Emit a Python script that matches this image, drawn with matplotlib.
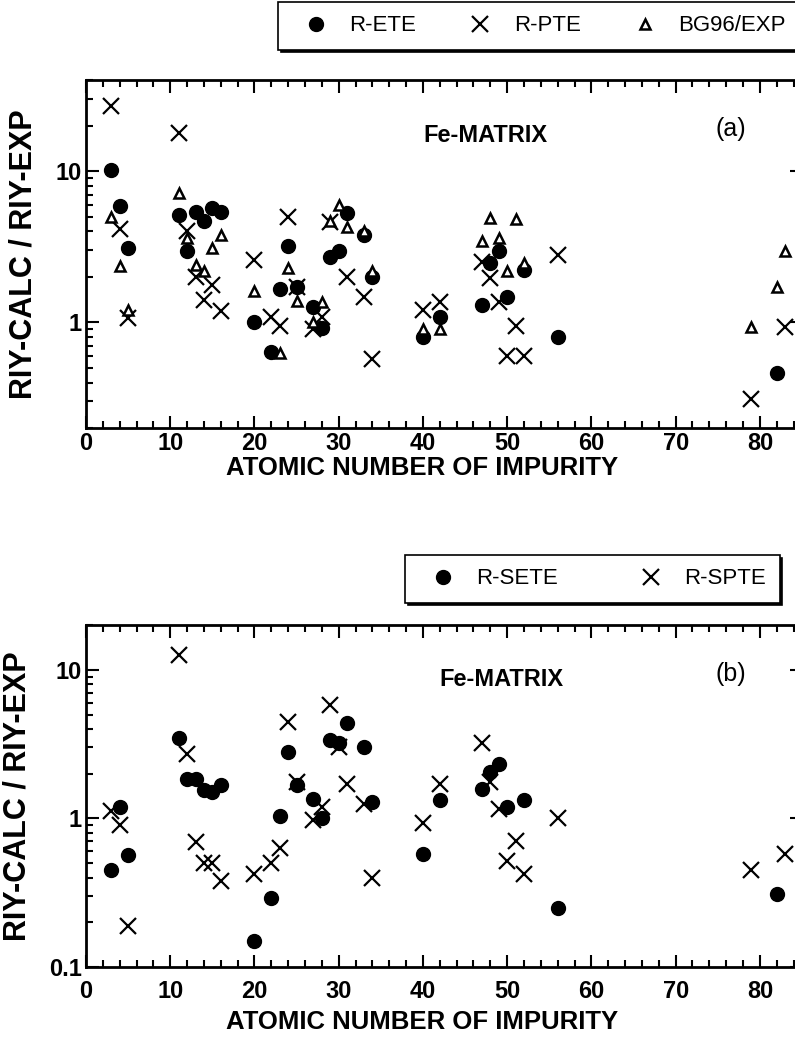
import matplotlib
matplotlib.use("Agg")
import matplotlib.pyplot as plt
from matplotlib.ticker import MultipleLocator, LogLocator, FuncFormatter, NullFormatter

plt.rcParams['font.family'] = ['Liberation Sans', 'DejaVu Sans']

# ---- panel (a) data ----
z_ete = [3, 4, 5, 11, 12, 13, 14, 15, 16, 20, 22, 23, 24, 25, 27, 28, 29, 30, 31,
         33, 34, 40, 42, 47, 48, 49, 50, 52, 56, 82]
r_ete = [10.2, 5.9, 3.1, 5.1, 2.94, 5.4, 4.7, 5.7, 5.4, 1.0, 0.64, 1.66, 3.18, 1.7,
         1.26, 0.92, 2.7, 2.95, 5.3, 3.8, 2.0, 0.8, 1.08, 1.3, 2.46, 2.94, 1.47,
         2.22, 0.8, 0.46]

z_pte = [3, 4, 5, 11, 12, 13, 14, 15, 16, 20, 22, 23, 24, 25, 27, 28, 29, 31, 33,
         34, 40, 42, 47, 48, 49, 50, 51, 52, 56, 79, 83]
r_pte = [27, 4.15, 1.06, 17.8, 4.0, 2.0, 1.4, 1.77, 1.19, 2.6, 1.08, 0.95, 4.96,
         1.7, 0.9, 1.08, 4.6, 2.0, 1.48, 0.57, 1.2, 1.37, 2.52, 1.95, 1.37, 0.6,
         0.95, 0.6, 2.8, 0.31, 0.93]

z_bg96 = [3, 4, 5, 11, 12, 13, 14, 15, 16, 20, 23, 24, 25, 27, 28, 29, 30, 31, 33,
          34, 40, 42, 47, 48, 49, 50, 51, 52, 79, 82, 83]
r_bg96 = [5.0, 2.34, 1.2, 7.2, 3.6, 2.4, 2.17, 3.1, 3.76, 1.6, 0.63, 2.28, 1.39,
          1.0, 1.37, 4.7, 6.0, 4.3, 4.0, 2.2, 0.91, 0.91, 3.43, 4.9, 3.6, 2.2, 4.8,
          2.46, 0.93, 1.72, 2.94]

# ---- panel (b) data ----
z_sete = [3, 4, 5, 11, 12, 13, 14, 15, 16, 20, 22, 23, 24, 25, 27, 28, 29, 30, 31,
          33, 34, 40, 42, 47, 48, 49, 50, 52, 56, 82]
r_sete = [0.45, 1.2, 0.57, 3.5, 1.85, 1.85, 1.55, 1.5, 1.67, 0.15, 0.29, 1.03, 2.8,
          1.67, 1.36, 1.0, 3.35, 3.2, 4.4, 3.0, 1.29, 0.58, 1.32, 1.58, 2.05, 2.33,
          1.19, 1.32, 0.25, 0.31]

z_spte = [3, 4, 5, 11, 12, 13, 14, 15, 16, 20, 22, 23, 24, 25, 27, 28, 29, 30, 31,
          33, 34, 40, 42, 47, 48, 49, 50, 51, 52, 56, 79, 83]
r_spte = [1.12, 0.9, 0.19, 12.5, 2.73, 0.69, 0.5, 0.5, 0.38, 0.42, 0.5, 0.63, 4.45,
          1.75, 0.97, 1.2, 5.8, 3.0, 1.7, 1.25, 0.4, 0.93, 1.7, 3.2, 1.75, 1.15,
          0.52, 0.7, 0.42, 1.0, 0.45, 0.58]

XLABEL = "ATOMIC NUMBER OF IMPURITY"
YLABEL = "RIY-CALC / RIY-EXP"

fig = plt.figure(figsize=(7.95, 10.45), dpi=100)
ax_a = fig.add_axes([0.1082, 0.5904, 0.9006, 0.333])
ax_b = fig.add_axes([0.1082, 0.0746, 0.9006, 0.3273])


def style(ax, ylim, xpad, xlabel_y):
	ax.set_yscale("log")
	ax.set_xlim(0, 85)
	ax.set_ylim(*ylim)
	ax.xaxis.set_major_locator(MultipleLocator(10))
	ax.xaxis.set_minor_locator(MultipleLocator(2))
	ax.yaxis.set_major_locator(LogLocator(base=10))
	ax.yaxis.set_minor_locator(LogLocator(base=10, subs=range(2, 10)))
	ax.yaxis.set_major_formatter(FuncFormatter(lambda v, p: "%g" % v))
	ax.yaxis.set_minor_formatter(NullFormatter())
	ax.tick_params(which="both", direction="in", top=True, right=True,
		labelsize=17, width=1.5, pad=3)
	ax.tick_params(axis="x", which="both", pad=xpad)
	ax.tick_params(which="major", length=9)
	ax.tick_params(which="minor", length=5)
	for lab in ax.get_xticklabels() + ax.get_yticklabels():
		lab.set_fontweight("bold")
	for s in ax.spines.values():
		s.set_linewidth(2)
	ax.set_xlabel(XLABEL, fontsize=18.5, fontweight="bold")
	ax.xaxis.set_label_coords(0.469, xlabel_y)
	ax.set_ylabel(YLABEL, fontsize=22, fontweight="bold", labelpad=12)


leg_kw = dict(loc="upper left", fontsize=16, handlelength=2.2, handletextpad=0.4,
	borderpad=0.6, borderaxespad=0, fancybox=False, edgecolor="black",
	framealpha=1, shadow={"color": "black", "alpha": 1})

# panel (a)
h1, = ax_a.plot(z_ete, r_ete, "o", color="black", ms=10, ls="none", label="R-ETE")
h2, = ax_a.plot(z_pte, r_pte, "x", color="black", ms=11, mew=1.6, ls="none", label="R-PTE")
h3, = ax_a.plot(z_bg96, r_bg96, "^", mfc="white", mec="black", mew=1.8, ms=7,
	ls="none", label="BG96/EXP")
style(ax_a, (0.2, 40), xpad=3, xlabel_y=-0.08)
ax_a.text(0.558, 0.84, "Fe-MATRIX", transform=ax_a.transAxes, fontsize=17,
	fontweight="bold", ha="center", va="center")
ax_a.text(0.90, 0.858, "(a)", transform=ax_a.transAxes, fontsize=18,
	ha="center", va="center")
leg_a = fig.legend(handles=[h1, h2, h3], bbox_to_anchor=(278 / 795, 1 - 2 / 1045),
	ncol=3, columnspacing=1.8, **leg_kw)
leg_a.get_frame().set_linewidth(1.2)

# panel (b)
g1, = ax_b.plot(z_sete, r_sete, "o", color="black", ms=10, ls="none", label="R-SETE")
g2, = ax_b.plot(z_spte, r_spte, "x", color="black", ms=11, mew=1.6, ls="none", label="R-SPTE")
style(ax_b, (0.1, 20), xpad=9, xlabel_y=-0.125)
ax_b.text(0.58, 0.84, "Fe-MATRIX", transform=ax_b.transAxes, fontsize=17,
	fontweight="bold", ha="center", va="center")
ax_b.text(0.90, 0.858, "(b)", transform=ax_b.transAxes, fontsize=18,
	ha="center", va="center")
leg_b = fig.legend(handles=[g1, g2], bbox_to_anchor=(405 / 795, 1 - 555 / 1045),
	ncol=2, columnspacing=3.1, **leg_kw)
leg_b.get_frame().set_linewidth(1.2)

fig.savefig("out.png", dpi=100)
